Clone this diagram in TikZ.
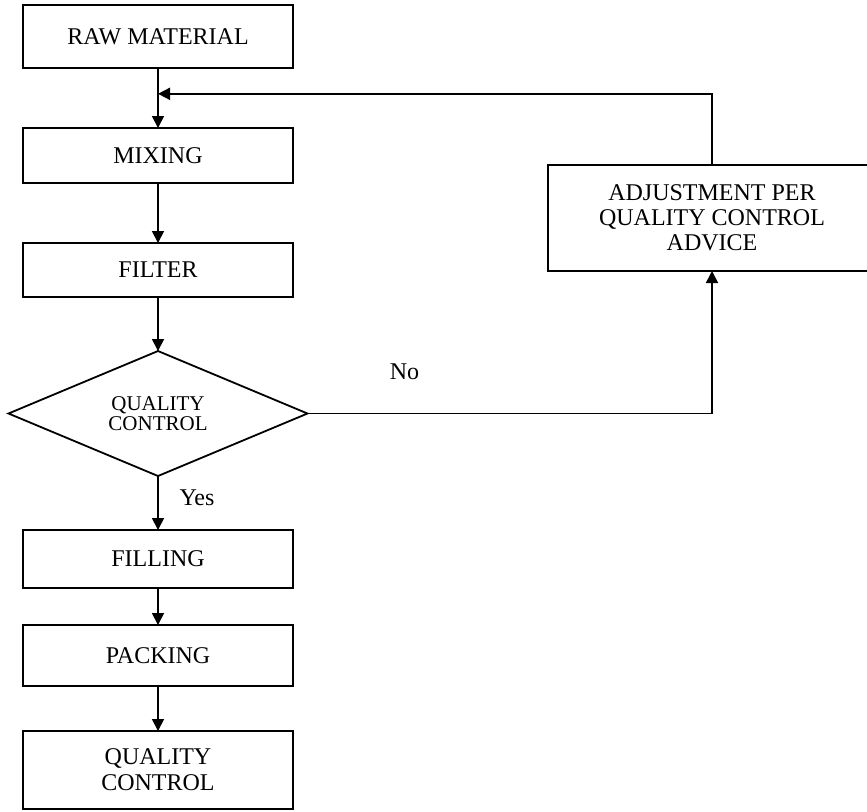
\documentclass[tikz,border=0pt]{standalone}
\usepackage{fontspec}
\setmainfont{Liberation Serif}
\usetikzlibrary{arrows.meta, positioning, shapes.geometric, calc}

\begin{document}
\begin{tikzpicture}[
      node distance=30pt,
      font=\fontsize{12}{13}\selectfont,
      stage/.style={rectangle, draw, line width=0.9pt, outer sep=0pt, minimum width=135pt, align=center},
      check/.style={diamond, aspect=2.4, draw, line width=0.9pt, outer sep=0pt, minimum width=149.5pt, minimum height=62.5pt, inner sep=0pt, align=center, font=\fontsize{10.5}{10}\selectfont},
      arr/.style={-{Triangle[length=6pt, width=6pt]}, line width=0.9pt}
    ]
      \useasboundingbox (0,0) rectangle (433.5pt,-405.5pt);
      \node[stage, minimum height=31.5pt] (raw) at (79pt,-18.25pt) {RAW MATERIAL};
      \node[stage, minimum height=27.5pt, below=30pt of raw] (mix) {MIXING};
      \node[stage, minimum height=27pt, below=30pt of mix] (filter) {FILTER};
      \node[check, below=27pt of filter] (qc) {QUALITY\\CONTROL};
      \node[stage, minimum height=29pt, below=27pt of qc] (fill) {FILLING};
      \node[stage, minimum height=30.5pt, below=18.5pt of fill] (pack) {PACKING};
      \node[stage, minimum height=39pt, below=22.5pt of pack] (final) {QUALITY\\CONTROL};
      \node[stage, minimum width=164pt, minimum height=53pt, font=\fontsize{12}{12.5}\selectfont] (adj) at (356pt,-109pt) {ADJUSTMENT PER\\QUALITY CONTROL\\ADVICE};

      \draw[arr] (raw) -- (mix);
      \draw[arr] (mix) -- (filter);
      \draw[arr] (filter) -- (qc);
      \draw[arr] (qc) -- node[pos=0.4, right=7pt] {Yes} (fill);
      \draw[arr] (fill) -- (pack);
      \draw[arr] (pack) -- (final);
      \draw[arr] (qc.east) -| node[pos=0.12, above=13pt] {No} (adj.south);
      \draw[arr] (adj.north) |- ($(raw.south)!0.43!(mix.north)$);
    \end{tikzpicture}
\end{document}
